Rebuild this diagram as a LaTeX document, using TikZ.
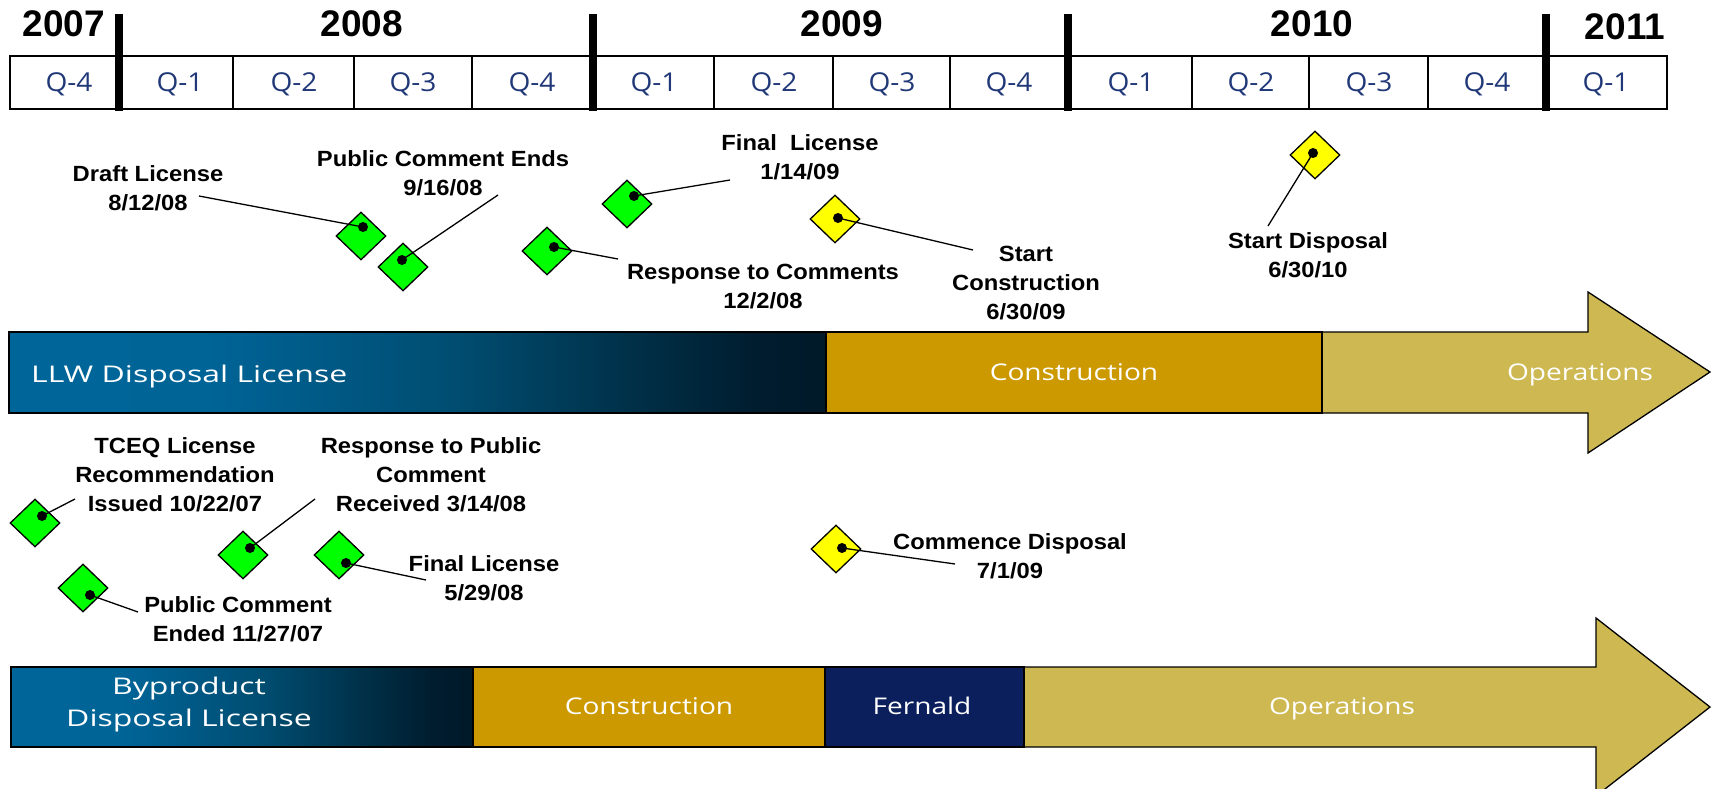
\documentclass[tikz,border=0pt]{standalone}
\usepackage{fontspec}
\setmainfont{Liberation Sans}
\newfontfamily\evfont[FakeStretch=1.08]{Liberation Sans}
\newfontfamily\barfont[FakeStretch=1.22]{Open Sans}
\newfontfamily\barfontw[FakeStretch=1.39]{Open Sans}
\newfontfamily\qfont[FakeStretch=1.08]{Open Sans}
\usetikzlibrary{shapes.geometric}
\definecolor{qblue}{RGB}{32,56,120}
\definecolor{constr}{RGB}{204,153,0}
\definecolor{oper}{RGB}{206,184,82}
\definecolor{fern}{RGB}{10,31,92}
\definecolor{mgreen}{RGB}{0,255,0}
\definecolor{myellow}{RGB}{255,255,0}
\pgfdeclarehorizontalshading{licshade}{100bp}{%
  rgb(0bp)=(0,0.40,0.60);
  rgb(25bp)=(0,0.40,0.60);
  rgb(37.5bp)=(0,0.39,0.59);
  rgb(52.5bp)=(0,0.30,0.44);
  rgb(64bp)=(0,0.18,0.27);
  rgb(71bp)=(0,0.11,0.18);
  rgb(75bp)=(0,0.10,0.16);
  rgb(100bp)=(0,0.10,0.16)}
\tikzset{
  year/.style={font=\bfseries\fontsize{37}{42}\selectfont, anchor=base, inner sep=0pt},
  qlab/.style={font=\qfont\fontsize{26}{30}\selectfont, text=qblue, anchor=base, inner sep=0pt},
  evt/.style={font=\evfont\bfseries\fontsize{22}{29}\selectfont, align=center, inner sep=0pt},
  ms/.style={shape=diamond, draw=black, line width=1.3pt, minimum width=50pt, minimum height=48pt, inner sep=0pt},
  gms/.style={ms, fill=mgreen},
  yms/.style={ms, fill=myellow},
  dotn/.style={circle, fill=black, inner sep=0pt, minimum size=10pt},
  lead/.style={line width=1.3pt, draw=black},
  barlab/.style={font=\barfont\fontsize{23}{31}\selectfont, text=white, inner sep=0pt},
  barlabw/.style={font=\barfontw\fontsize{23}{31}\selectfont, text=white, inner sep=0pt},
  barline/.style={draw=black, line width=1.3pt},
  divline/.style={draw=black, line width=1.3pt},
  yearbar/.style={draw=black, line width=8pt}
}
\begin{document}
\begin{tikzpicture}[x=1pt,y=-1pt]
\useasboundingbox (0,0) rectangle (1718,789);

% ---- timeline header ----
\node[year] (y2007) at (64,37) {2007};
\node[year] (y2008) at (362,37) {2008};
\node[year] (y2009) at (842,37) {2009};
\node[year] (y2010) at (1312,37) {2010};
\node[year] (y2011) at (1625,40) {2011};

\draw[line width=2pt] (10,56) rectangle (1667,109);
\foreach \x in {233,354,472,714,833,950,1192,1309,1428}
  \draw[divline] (\x,56) -- (\x,109);
\foreach \x in {119,593,1068,1546}
  \draw[yearbar] (\x,14) -- (\x,111);

\foreach \x/\t [count=\i] in {69/Q-4,180/Q-1,294/Q-2,413/Q-3,532/Q-4,654/Q-1,774/Q-2,892/Q-3,1009/Q-4,1131/Q-1,1251/Q-2,1369/Q-3,1487/Q-4,1606/Q-1}
  \node[qlab] (q\i) at (\x,92) {\t};

% ---- upper bar ----
\path[fill=oper, barline] (1322,332) -- (1588,332) -- (1588,292) -- (1710,372) -- (1588,453) -- (1588,413) -- (1322,413) -- cycle;
\path[fill=constr, barline] (826,332) rectangle (1322,413);
\shade[shading=licshade] (9,332) rectangle (826,413);
\draw[barline] (9,332) rectangle (826,413);
\node[barlabw, anchor=base west] (llw) at (31,382) {LLW Disposal License};
\node[barlab, anchor=base] (uconstr) at (1074,380) {Construction};
\node[barlab, anchor=base] (uoper) at (1580,380) {Operations};

% ---- lower bar ----
\path[fill=oper, barline] (1024,667) -- (1596,667) -- (1596,618) -- (1710,707) -- (1596,796) -- (1596,747) -- (1024,747) -- cycle;
\path[fill=fern, barline] (825,667) rectangle (1024,747);
\path[fill=constr, barline] (473,667) rectangle (825,747);
\shade[shading=licshade] (11,667) rectangle (473,747);
\draw[barline] (11,667) rectangle (473,747);
\node[barlabw, anchor=base] (byp1) at (189,694) {Byproduct};
\node[barlabw, anchor=base] (byp2) at (189,726) {Disposal License};
\node[barlab, anchor=base] (lconstr) at (649,714) {Construction};
\node[barlab, anchor=base] (lfern) at (922,714) {Fernald};
\node[barlab, anchor=base] (loper) at (1342,714) {Operations};

% ---- upper milestones ----
\node[gms] (m1) at (361,236) {};
\node[gms] (m2) at (403,267) {};
\node[gms] (m3) at (547,251) {};
\node[gms] (m4) at (627,204) {};
\node[yms] (m5) at (835,219) {};
\node[yms] (m6) at (1315,155) {};
\node[dotn] (d1) at (363,227) {};
\node[dotn] (d2) at (402,260) {};
\node[dotn] (d3) at (554,247) {};
\node[dotn] (d4) at (634,196) {};
\node[dotn] (d5) at (838,218) {};
\node[dotn] (d6) at (1313,153) {};

\node[evt] (t1) at (148,188) {Draft License\\8/12/08};
\node[evt] (t2) at (443,173) {Public Comment Ends\\9/16/08};
\node[evt] (t3) at (763,287) {Response to Comments\\12/2/08};
\node[evt] (t4) at (800,157) {Final\ \ License\\1/14/09};
\node[evt] (t5) at (1026,283) {Start\\Construction\\6/30/09};
\node[evt] (t6) at (1308,255) {Start Disposal\\6/30/10};

\coordinate (e1) at (199,196);
\coordinate (e2) at (498,195);
\coordinate (e3) at (618,259);
\coordinate (e4) at (730,180);
\coordinate (e5) at (973,250);
\coordinate (e6) at (1268,226);
\foreach \i in {1,...,6} \draw[lead] (d\i.center) -- (e\i);

% ---- lower milestones ----
\node[gms] (m7) at (35,523) {};
\node[gms] (m8) at (83,588) {};
\node[gms] (m9) at (243,555) {};
\node[gms] (m10) at (339,555) {};
\node[yms] (m11) at (836,549) {};
\node[dotn] (d7) at (42,516) {};
\node[dotn] (d8) at (90,595) {};
\node[dotn] (d9) at (250,548) {};
\node[dotn] (d10) at (346,563) {};
\node[dotn] (d11) at (842,548) {};

\node[evt] (t7) at (175,475) {TCEQ License\\Recommendation\\Issued 10/22/07};
\node[evt] (t8) at (238,619) {Public Comment\\Ended 11/27/07};
\node[evt] (t9) at (431,475) {Response to Public\\Comment\\Received 3/14/08};
\node[evt] (t10) at (484,578) {Final License\\5/29/08};
\node[evt] (t11) at (1010,556) {Commence Disposal\\7/1/09};

\coordinate (e7) at (75,499);
\coordinate (e8) at (138,612);
\coordinate (e9) at (315,499);
\coordinate (e10) at (426,580);
\coordinate (e11) at (955,564);
\foreach \i in {7,...,11} \draw[lead] (d\i.center) -- (e\i);
\end{tikzpicture}
\end{document}
